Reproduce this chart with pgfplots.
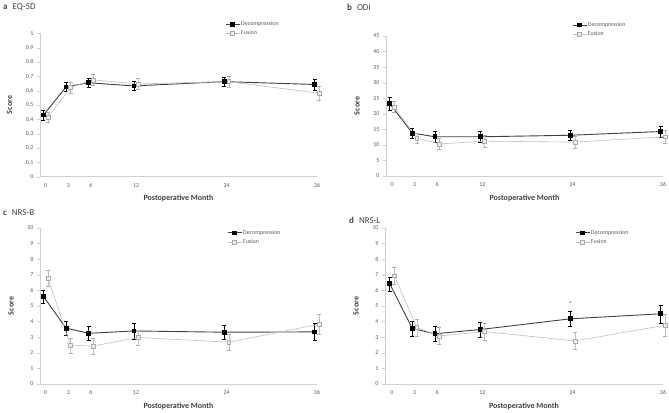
\documentclass[border=0pt]{standalone}
\usepackage{fontspec}
\setmainfont{Carlito}
\usepackage{pgfplots}
\pgfplotsset{compat=1.18}

\definecolor{dk}{HTML}{404040}
\definecolor{fus}{HTML}{ABABAB}
\definecolor{fusl}{HTML}{BFBFBF}
\definecolor{fusfill}{HTML}{EDEDED}
\definecolor{axg}{HTML}{D0D0D0}
\definecolor{tk}{HTML}{595959}

\pgfplotsset{
  panel/.style={
    scale only axis,
    axis x line=bottom, axis y line=left,
    axis line style={draw=axg, -},
    xmax=36,
    xtick={0,3,6,12,24,36},
    tick label style={font=\fontsize{6}{7}\selectfont, text=tk},
    /pgf/number format/assume math mode=true,
    xtick style={draw=none},
    ytick style={draw=axg},
    tick align=outside,
    major tick length=3bp,
    xlabel={Postoperative Month}, ylabel={Score},
    label style={font=\bfseries\fontsize{8}{9}\selectfont, text=dk},
    xlabel style={yshift=-1bp},
    ylabel shift=7bp,
    clip=false,
    legend style={draw=none, fill=none, font=\fontsize{6}{7}\selectfont, text=tk,
      inner sep=0pt, row sep=1.5bp, anchor=north west,
      nodes={inner sep=1pt}},
    legend cell align=left,
    legend image code/.code={\draw[mark repeat=2, mark phase=2, #1] plot coordinates {(0bp,0bp) (7bp,0bp) (14bp,0bp)};},
  },
  dec/.style={
    error bars/y dir=both, error bars/y explicit,
    error bars/error bar style={black, line width=0.6bp},
    error bars/error mark options={rotate=90, black, mark size=2bp},
    color=dk, line width=0.9bp, mark=square*, mark size=1.9bp,
    mark options={fill=black, draw=black, solid}},
  fus/.style={
    error bars/y dir=both, error bars/y explicit,
    error bars/error bar style={fus, line width=0.6bp},
    error bars/error mark options={rotate=90, fus, mark size=2bp},
    color=fusl, line width=0.6bp, mark=square*, mark size=1.9bp,
    mark options={fill=fusfill, draw=fus, solid}},
}

\begin{document}
\begin{tikzpicture}
\useasboundingbox (0,0) rectangle (669bp,413bp);

% titles
\node[anchor=west, inner sep=0, text=dk, font=\fontsize{9}{10}\selectfont] at (3bp,406bp) {\textbf{a}\hspace{5bp}EQ-5D};
\node[anchor=west, inner sep=0, text=dk, font=\fontsize{9}{10}\selectfont] at (347bp,406bp) {\textbf{b}\hspace{5bp}ODI};
\node[anchor=west, inner sep=0, text=dk, font=\fontsize{9}{10}\selectfont] at (3bp,200bp) {\textbf{c}\hspace{5bp}NRS-B};
\node[anchor=west, inner sep=0, text=dk, font=\fontsize{9}{10}\selectfont] at (349bp,193bp) {\textbf{d}\hspace{5bp}NRS-L};

% ---------- a ----------
\begin{axis}[panel, at={(40bp,236.3bp)}, anchor=south west,
  width=277bp, height=143.4bp, xmin=-0.76, ymin=0, ymax=1,
  ytick={0,0.1,0.2,0.3,0.4,0.5,0.6,0.7,0.8,0.9,1},
  yticklabels={0,0.1,0.2,0.3,0.4,0.5,0.6,0.7,0.8,0.9,1},
  legend style={at={(0.668,1.09)}}]
\addplot[dec] coordinates {(-0.3,0.430) +- (0,0.033) (2.7,0.626) +- (0,0.031) (5.7,0.655) +- (0,0.032) (11.7,0.633) +- (0,0.031) (23.7,0.663) +- (0,0.034) (35.7,0.643) +- (0,0.037)};
\addlegendentry{Decompression}
\addplot[fus] coordinates {(0.3,0.414) +- (0,0.035) (3.3,0.623) +- (0,0.039) (6.3,0.675) +- (0,0.040) (12.3,0.647) +- (0,0.037) (24.3,0.663) +- (0,0.039) (36.3,0.582) +- (0,0.048)};
\addlegendentry{Fusion}
\end{axis}

% ---------- b ----------
\begin{axis}[panel, at={(386bp,237bp)}, anchor=south west,
  width=277bp, height=140bp, xmin=-0.8, ymin=0, ymax=45,
  ytick={0,5,10,15,20,25,30,35,40,45},
  legend style={at={(0.671,1.107)}}]
\addplot[dec] coordinates {(-0.3,23.2) +- (0,2.0) (2.7,13.8) +- (0,1.5) (5.7,12.6) +- (0,1.7) (11.7,12.6) +- (0,1.7) (23.7,13.1) +- (0,1.5) (35.7,14.3) +- (0,1.7)};
\addlegendentry{Decompression}
\addplot[fus] coordinates {(0.3,22.2) +- (0,1.8) (3.3,12.2) +- (0,1.6) (6.3,10.3) +- (0,1.7) (12.3,11.2) +- (0,1.8) (24.3,10.9) +- (0,2.0) (36.3,12.6) +- (0,2.0)};
\addlegendentry{Fusion}
\end{axis}

% ---------- c ----------
\begin{axis}[panel, at={(40bp,29bp)}, anchor=south west,
  width=277bp, height=156bp, xmin=-0.76, ymin=0, ymax=10,
  ytick={0,1,2,3,4,5,6,7,8,9,10},
  legend style={at={(0.675,0.994)}}]
\addplot[dec] coordinates {(-0.3,5.61) +- (0,0.40) (2.7,3.58) +- (0,0.47) (5.7,3.25) +- (0,0.47) (11.7,3.40) +- (0,0.50) (23.7,3.32) +- (0,0.45) (35.7,3.34) +- (0,0.55)};
\addlegendentry{Decompression}
\addplot[fus] coordinates {(0.3,6.79) +- (0,0.50) (3.3,2.46) +- (0,0.50) (6.3,2.44) +- (0,0.50) (12.3,2.98) +- (0,0.50) (24.3,2.68) +- (0,0.50) (36.3,3.83) +- (0,0.65)};
\addlegendentry{Fusion}
\end{axis}

% ---------- d ----------
\begin{axis}[panel, at={(385bp,29bp)}, anchor=south west,
  width=278bp, height=156bp, xmin=-0.93, ymin=0, ymax=10,
  ytick={0,1,2,3,4,5,6,7,8,9,10},
  legend style={at={(0.683,0.994)}}]
\addplot[dec] coordinates {(-0.3,6.42) +- (0,0.45) (2.7,3.56) +- (0,0.47) (5.7,3.22) +- (0,0.50) (11.7,3.49) +- (0,0.50) (23.7,4.18) +- (0,0.47) (35.7,4.50) +- (0,0.58)};
\addlegendentry{Decompression}
\addplot[fus] coordinates {(0.3,6.94) +- (0,0.57) (3.3,3.62) +- (0,0.55) (6.3,3.08) +- (0,0.55) (12.3,3.36) +- (0,0.55) (24.3,2.76) +- (0,0.55) (36.3,3.77) +- (0,0.70)};
\addlegendentry{Fusion}
\node[font=\fontsize{7}{8}\selectfont, text=dk, inner sep=0] at (axis cs:23.7,5.15) {*};
\end{axis}
\end{tikzpicture}
\end{document}
